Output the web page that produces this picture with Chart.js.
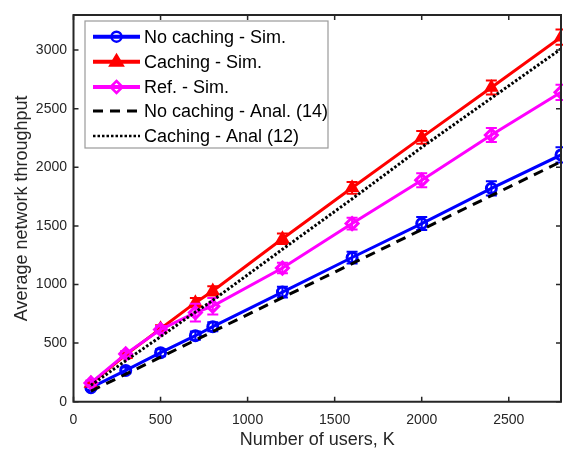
<!DOCTYPE html>
<html><head><meta charset="utf-8">
<script src="https://cdn.jsdelivr.net/npm/chart.js@4/dist/chart.umd.min.js"></script>
<style>
html,body{margin:0;padding:0;background:#fff;overflow:hidden;}
#wrap{width:563px;height:449px;overflow:hidden;position:relative;}
canvas{display:block;}
</style>
</head><body>
<div id="wrap"><canvas id="c" width="570" height="449"></canvas></div>
<script>
const users = [100, 300, 500, 700, 800, 1200, 1600, 2000, 2400, 2800];
const noCachingSim = [120, 267, 418, 563, 640, 935, 1230, 1520, 1820, 2105];
const noCachingErr = [20, 25, 30, 35, 38, 45, 50, 55, 60, 65];
const cachingSim = [155, 400, 622, 845, 945, 1390, 1825, 2255, 2680, 3110];
const cachingErr = [20, 25, 30, 40, 40, 45, 50, 55, 60, 65];
const refSim = [160, 408, 615, 760, 815, 1140, 1520, 1890, 2275, 2640];
const refErr = [20, 25, 30, 75, 70, 45, 50, 60, 60, 65];
const noCachingAnal = [90, 235, 380, 525, 598, 888, 1178, 1468, 1758, 2048];
const cachingAnal = [140, 350, 555, 765, 865, 1300, 1730, 2170, 2590, 3010];
const xTicks = [0, 500, 1000, 1500, 2000, 2500];
const yTicks = [0, 500, 1000, 1500, 2000, 2500, 3000];
const seriesLabels = ['No caching - Sim.', 'Caching - Sim.', 'Ref. - Sim.', 'No caching - Anal. (14)', 'Caching - Anal (12)'];
const xTitle = 'Number of users, K';
const yTitle = 'Average network throughput';

const pts = arr => users.map((u, i) => ({x: u, y: arr[i]}));
const FONT = '"Liberation Sans", Arial, Helvetica, sans-serif';
const AXC = '#262626';

const errorBars = {
  id: 'errorBars',
  afterDatasetDraw(chart, args) {
    const ds = chart.data.datasets[args.index];
    if (!ds.errors) return;
    const ctx = chart.ctx, xs = chart.scales.x, ys = chart.scales.y;
    ctx.save();
    ctx.strokeStyle = ds.borderColor; ctx.lineWidth = 2; ctx.setLineDash([]);
    ds.data.forEach((p, i) => {
      const e = ds.errors[i];
      const px = xs.getPixelForValue(p.x);
      const y1 = ys.getPixelForValue(p.y - e), y2 = ys.getPixelForValue(p.y + e);
      ctx.beginPath();
      ctx.moveTo(px, y1); ctx.lineTo(px, y2);
      ctx.moveTo(px - 5.5, y1); ctx.lineTo(px + 5.5, y1);
      ctx.moveTo(px - 5.5, y2); ctx.lineTo(px + 5.5, y2);
      ctx.stroke();
    });
    ctx.restore();
  }
};

const axesBox = {
  id: 'axesBox',
  afterDatasetsDraw(chart) {
    const ctx = chart.ctx, a = chart.chartArea, xs = chart.scales.x, ys = chart.scales.y;
    ctx.save();
    ctx.strokeStyle = AXC; ctx.lineWidth = 2; ctx.setLineDash([]);
    ctx.beginPath();
    ctx.rect(a.left, a.top, a.right - a.left, a.bottom - a.top);
    ctx.stroke();
    ctx.lineWidth = 1.5;
    ctx.beginPath();
    xTicks.forEach(v => {
      const px = xs.getPixelForValue(v);
      ctx.moveTo(px, a.bottom); ctx.lineTo(px, a.bottom - 5);
      ctx.moveTo(px, a.top); ctx.lineTo(px, a.top + 5);
    });
    yTicks.forEach(v => {
      const py = ys.getPixelForValue(v);
      ctx.moveTo(a.left, py); ctx.lineTo(a.left + 5, py);
      ctx.moveTo(a.right, py); ctx.lineTo(a.right - 5, py);
    });
    ctx.stroke();
    ctx.restore();
  }
};

function drawMarker(ctx, style, x, y, r, color, fill) {
  ctx.beginPath();
  if (style === 'circle') {
    ctx.arc(x, y, r, 0, Math.PI * 2);
  } else if (style === 'triangle') {
    ctx.moveTo(x, y - r); ctx.lineTo(x + r * 0.95, y + r * 0.6); ctx.lineTo(x - r * 0.95, y + r * 0.6); ctx.closePath();
  } else if (style === 'rectRot') {
    ctx.moveTo(x, y - r); ctx.lineTo(x + r, y); ctx.lineTo(x, y + r); ctx.lineTo(x - r, y); ctx.closePath();
  }
  if (fill) { ctx.fillStyle = color; ctx.fill(); }
  ctx.strokeStyle = color; ctx.lineWidth = 2.5; ctx.stroke();
}

const legendBox = {
  id: 'legendBox',
  afterDraw(chart) {
    const ctx = chart.ctx;
    const bx = 85, by = 21, bw = 243, bh = 127;
    ctx.save();
    ctx.fillStyle = '#fff';
    ctx.fillRect(bx, by, bw, bh);
    ctx.strokeStyle = '#9a9a9a'; ctx.lineWidth = 1.2;
    ctx.strokeRect(bx, by, bw, bh);
    const rows = [36.7, 61.7, 87, 111, 136];
    chart.data.datasets.forEach((ds, i) => {
      const y = rows[i];
      ctx.save();
      ctx.strokeStyle = ds.borderColor;
      ctx.lineWidth = ds.legendWidth;
      ctx.setLineDash(ds.borderDash || []);
      ctx.beginPath(); ctx.moveTo(93, y); ctx.lineTo(140, y); ctx.stroke();
      ctx.setLineDash([]);
      if (ds.pointRadius > 0) drawMarker(ctx, ds.pointStyle, 116.5, y, ds.pointRadius, ds.borderColor, ds.legendFill);
      ctx.restore();
      ctx.fillStyle = '#000';
      ctx.font = '18px ' + FONT;
      ctx.textBaseline = 'middle';
      ctx.textAlign = 'left';
      ctx.fillText(ds.label, 144, y + 1);
    });
    ctx.restore();
  }
};

const datasets = [
  {label: seriesLabels[0], data: pts(noCachingSim), errors: noCachingErr, borderColor: '#0000ff',
   backgroundColor: 'rgba(0,0,0,0)', borderWidth: 3, legendWidth: 4, pointStyle: 'circle', pointRadius: 5,
   pointBorderWidth: 3, pointBackgroundColor: 'rgba(0,0,0,0)', legendFill: false, order: 4},
  {label: seriesLabels[1], data: pts(cachingSim), errors: cachingErr, borderColor: '#ff0000',
   backgroundColor: 'rgba(0,0,0,0)', borderWidth: 3, legendWidth: 4, pointStyle: 'triangle', pointRadius: 6.5,
   pointBorderWidth: 2, pointBackgroundColor: '#ff0000', legendFill: true, order: 3},
  {label: seriesLabels[2], data: pts(refSim), errors: refErr, borderColor: '#ff00ff',
   backgroundColor: 'rgba(0,0,0,0)', borderWidth: 3, legendWidth: 4, pointStyle: 'rectRot', pointRadius: 6,
   pointBorderWidth: 3, pointBackgroundColor: 'rgba(0,0,0,0)', legendFill: false, order: 2},
  {label: seriesLabels[3], data: pts(noCachingAnal), borderColor: '#000000',
   backgroundColor: 'rgba(0,0,0,0)', borderWidth: 3, legendWidth: 3, borderDash: [10, 7], pointRadius: 0, order: 1},
  {label: seriesLabels[4], data: pts(cachingAnal), borderColor: '#000000',
   backgroundColor: 'rgba(0,0,0,0)', borderWidth: 3, legendWidth: 2.5, borderDash: [2.5, 2], pointRadius: 0, order: 0}
];

new Chart(document.getElementById('c'), {
  type: 'line',
  data: {datasets},
  plugins: [errorBars, axesBox, legendBox],
  options: {
    responsive: false,
    animation: false,
    devicePixelRatio: 1,
    layout: {padding: {left: 0, top: 11.7, right: 3.5, bottom: 0}},
    plugins: {legend: {display: false}, tooltip: {enabled: false}},
    elements: {line: {tension: 0, borderCapStyle: 'butt'}},
    scales: {
      x: {
        type: 'linear', min: 0, max: 2800,
        grid: {display: false, drawTicks: false},
        border: {display: false},
        afterBuildTicks: s => { s.ticks = xTicks.map(v => ({value: v})); },
        afterFit: s => { s.height = 47.3; },
        ticks: {color: AXC, font: {family: FONT, size: 14}, padding: 10, maxRotation: 0, callback: v => String(v)},
        title: {display: true, text: xTitle, color: AXC, font: {family: FONT, size: 18, lineHeight: 1}, padding: 0}
      },
      y: {
        type: 'linear', min: 0, max: 3300,
        grid: {display: false, drawTicks: false},
        border: {display: false},
        afterBuildTicks: s => { s.ticks = yTicks.map(v => ({value: v})); },
        afterFit: s => { s.width = 73.5; },
        ticks: {color: AXC, font: {family: FONT, size: 14}, padding: 6.5, callback: v => String(v)},
        title: {display: true, text: yTitle, color: AXC, font: {family: FONT, size: 18, lineHeight: 1}, padding: {top: 13, bottom: 0}}
      }
    }
  }
});
</script>
</body></html>
